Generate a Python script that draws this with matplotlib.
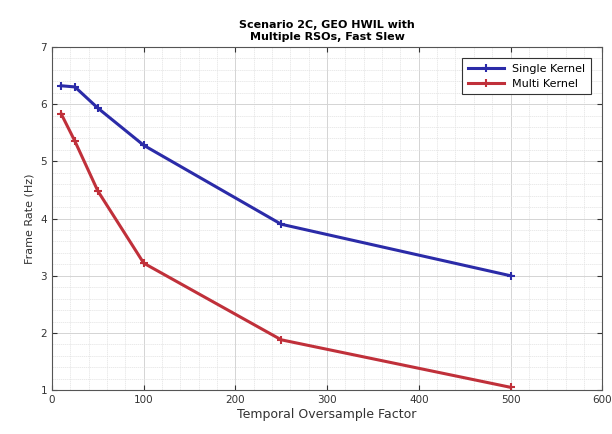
import numpy as np
import matplotlib
matplotlib.use("Agg")
import matplotlib.pyplot as plt
from matplotlib.ticker import MultipleLocator

# temporal oversample factor vs frame rate
oversample = [10, 25, 50, 100, 250, 500]
single_kernel = [6.32, 6.30, 5.93, 5.28, 3.90, 3.00]
multi_kernel = [5.83, 5.35, 4.48, 3.22, 1.88, 1.05]

x_ticks = [0, 100, 200, 300, 400, 500, 600]
x_tick_labels = ["0", "100", "200", "300", "400", "500", "600"]
y_ticks = [1, 2, 3, 4, 5, 6, 7]

fig = plt.figure(figsize=(6.12, 4.34), dpi=100)
ax = fig.add_axes([0.085, 0.101, 0.899, 0.791])

ax.plot(oversample, single_kernel, color="#2b2ba8", linewidth=2.2, marker="+",
        markersize=6, markeredgewidth=1.5, label="Single Kernel")
ax.plot(oversample, multi_kernel, color="#c0303a", linewidth=2.2, marker="+",
        markersize=6, markeredgewidth=1.5, label="Multi Kernel")

ax.set_xlim(0, 600)
ax.set_ylim(1, 7)
ax.set_xticks(x_ticks)
ax.set_xticklabels(x_tick_labels)
ax.set_yticks(y_ticks)
ax.xaxis.set_minor_locator(MultipleLocator(20))
ax.yaxis.set_minor_locator(MultipleLocator(0.2))

ax.grid(which="major", color="#d4d4d4", linewidth=0.7)
ax.grid(which="minor", color="#e2e2e2", linewidth=0.5, linestyle=(0, (2, 1)))
ax.set_axisbelow(True)

ax.tick_params(which="both", direction="in", top=True, right=True,
               labelsize=7.5, colors="#333333")
ax.tick_params(which="minor", length=0)
for s in ax.spines.values():
    s.set_color("#555555")
    s.set_linewidth(0.8)

ax.set_xlabel("Temporal Oversample Factor", fontsize=9, color="#333333", labelpad=2)
ax.set_ylabel("Frame Rate (Hz)", fontsize=8, color="#333333", labelpad=4)
ax.set_title("Scenario 2C, GEO HWIL with\nMultiple RSOs, Fast Slew",
             fontsize=8, fontweight="bold", pad=5, linespacing=1.3)

leg = ax.legend(loc="upper right", fontsize=8, fancybox=False,
                edgecolor="#333333", framealpha=1, borderaxespad=1.0,
                handlelength=3.2, labelspacing=0.45, borderpad=0.5)
leg.get_frame().set_linewidth(0.8)

fig.savefig("out.png", dpi=100)
plt.close(fig)
